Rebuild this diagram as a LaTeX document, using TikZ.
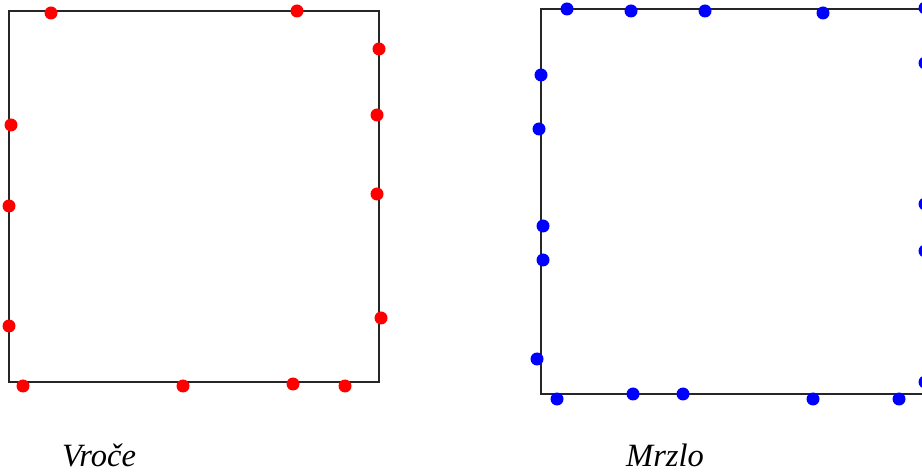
\documentclass[tikz,border=0pt]{standalone}
\usepackage{fontspec}
\setmainfont{Liberation Serif}

\begin{document}
\begin{tikzpicture}[x=0.02cm, y=-0.02cm,
    wall/.style={draw=black!85, line width=1.2pt},
    hot/.style={fill=red},
    cold/.style={fill=blue},
    caption/.style={font=\itshape\fontsize{18.5}{22}\selectfont, anchor=base}]
    \useasboundingbox (0,0) rectangle (922,472);
    \clip (0,0) rectangle (922,472);

    % Hot box
    \draw[wall] (9,11) rectangle (379,382);
    \foreach \px/\py in {51/13, 297/11, 379/49, 377/115, 377/194, 381/318,
                         11/125, 9/206, 9/326, 23/386, 183/386, 293/384, 345/386}
        \fill[hot] (\px,\py) circle[radius=6.5];

    % Cold box
    \draw[wall] (541,9) rectangle (926,394);
    \foreach \px/\py in {567/9, 631/11, 705/11, 823/13, 925/8,
                         541/75, 539/129, 543/226, 543/260, 537/359,
                         557/399, 633/394, 683/394, 813/399, 899/399,
                         925/63, 925/204, 925/251, 930/313, 925/382}
        \fill[cold] (\px,\py) circle[radius=6.5];

    % Labels
    \node[caption] (hotlbl) at (99,466) {Vroče};
    \node[caption] (coldlbl) at (665,466) {Mrzlo};
\end{tikzpicture}
\end{document}
